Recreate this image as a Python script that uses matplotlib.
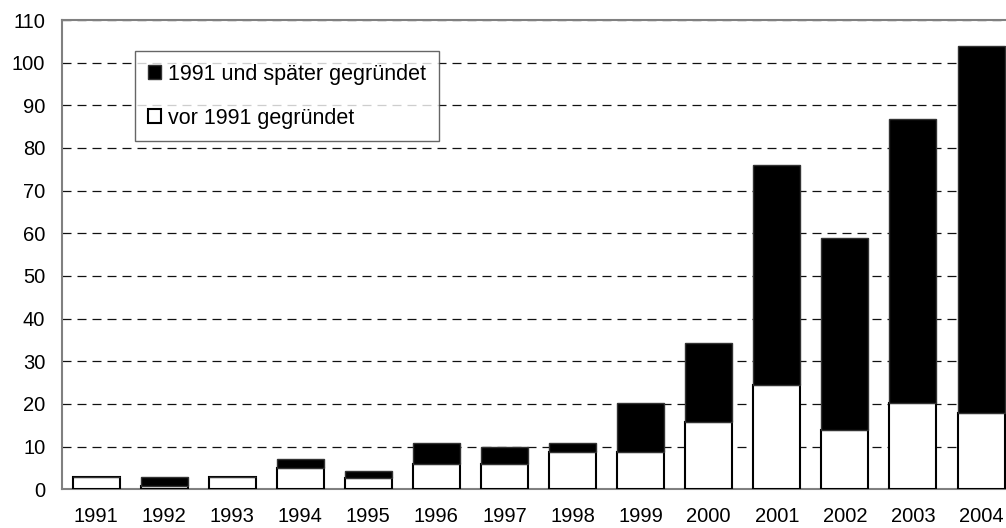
import matplotlib
matplotlib.use('Agg')
import matplotlib.pyplot as plt
import numpy as np

plt.rcParams['font.family'] = ['Liberation Sans', 'DejaVu Sans']

# Daten (Anzahl je Jahr)
jahre = ['1991', '1992', '1993', '1994', '1995', '1996', '1997',
         '1998', '1999', '2000', '2001', '2002', '2003', '2004']
vor_1991 = [2.8, 0.7, 2.8, 5.0, 2.6, 5.9, 5.85, 8.7, 8.7, 15.7, 24.5, 13.8, 20.3, 17.9]
gesamt = [2.8, 2.95, 2.8, 7.2, 4.36, 10.9, 10.0, 10.9, 20.3, 34.3, 75.9, 59.0, 86.7, 103.8]
ab_1991 = [g - v for g, v in zip(gesamt, vor_1991)]

fig = plt.figure(figsize=(10.06, 5.28), dpi=100)
ax = fig.add_axes([62 / 1006, 1 - 489.3 / 528, 1 - 62 / 1006, (489.3 - 20) / 528])

x = np.arange(len(jahre))
b1 = ax.bar(x, vor_1991, width=0.69, color='white', edgecolor='black', linewidth=1.5,
            label='vor 1991 gegründet', zorder=3)
b2 = ax.bar(x, ab_1991, width=0.69, bottom=vor_1991, color='black', edgecolor='#333333',
            linewidth=1.0, label='1991 und später gegründet', zorder=3)

ax.set_ylim(0, 110)
ax.set_xlim(-0.5, 13 + (1006 - 981) / 68.15)
ax.set_yticks(range(0, 111, 10))
ax.set_xticks(x)
ax.set_xticklabels(jahre)
ax.tick_params(axis='both', length=0, labelsize=14.5)
ax.tick_params(axis='x', pad=13)
ax.tick_params(axis='y', pad=12)

ax.yaxis.grid(True, linestyle=(0, (7.2, 4.8)), color='#111111', linewidth=0.9)
ax.set_axisbelow(True)

for s in ['left', 'bottom', 'top']:
    ax.spines[s].set_color('#808080')
    ax.spines[s].set_linewidth(1.5)
ax.spines['right'].set_visible(False)

leg = ax.legend(handles=[b2, b1], loc='upper left',
                bbox_to_anchor=((135 - 62) / 944, 1 - (51 - 20) / 469.3),
                frameon=True, fancybox=False, edgecolor='#404040', fontsize=15.5,
                handlelength=0.62, handleheight=0.62, handletextpad=0.3,
                labelspacing=1.05, borderpad=0.6, borderaxespad=0)
leg.get_frame().set_linewidth(1.0)

fig.savefig('out.png', dpi=100)
